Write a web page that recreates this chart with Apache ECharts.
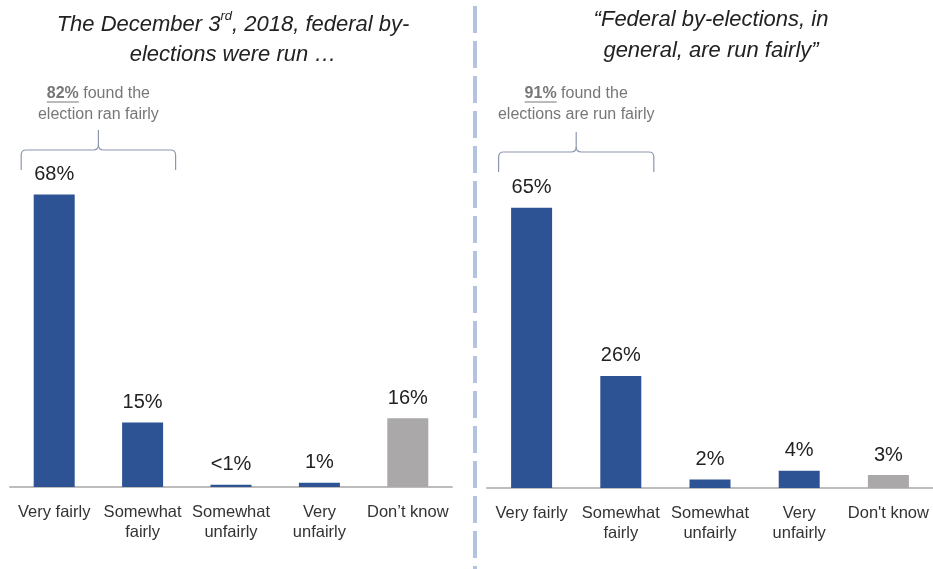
<!DOCTYPE html>
<html>
<head>
<meta charset="utf-8">
<script src="https://cdn.jsdelivr.net/npm/echarts@6/dist/echarts.min.js"></script>
<style>
  html, body { margin: 0; padding: 0; background: #fff; }
  #chart { width: 933px; height: 569px; }
</style>
</head>
<body>
<div id="chart"></div>
<script>
// Answer categories (same for both panels)
const categoriesLeft = ['Very fairly', 'Somewhat\nfairly', 'Somewhat\nunfairly', 'Very\nunfairly', 'Don\u2019t know'];
const categoriesRight = ['Very fairly', 'Somewhat\nfairly', 'Somewhat\nunfairly', 'Very\nunfairly', "Don't know"];

// Dec 3, 2018 by-elections were run ...
const valuesLeft = [68, 15, 0.5, 1, 16];
const labelsLeft = ['68%', '15%', '<1%', '1%', '16%'];

// Federal by-elections, in general, are run fairly
const valuesRight = [65, 26, 2, 4, 3];
const labelsRight = ['65%', '26%', '2%', '4%', '3%'];

const BLUE = '#2E5395';
const GREY = '#AAA8A9';
const FONT = '"Liberation Sans", Arial, sans-serif';
const CAPTION_SIZE = 16;

function barData(values, labels) {
  return values.map((v, i) => ({
    value: v,
    itemStyle: { color: i === values.length - 1 ? GREY : BLUE },
    label: { formatter: labels[i] }
  }));
}

const chart = echarts.init(document.getElementById('chart'), null, { renderer: 'canvas' });

const xAxisCommon = {
  type: 'category',
  axisLine: { lineStyle: { color: '#BDBDBD', width: 2 } },
  axisTick: { show: false },
  axisLabel: { interval: 0, color: '#333', fontSize: 16.5, fontFamily: FONT, lineHeight: 20, margin: 15 }
};
const yAxisCommon = { type: 'value', min: 0, max: 100, show: false, splitLine: { show: false } };
const seriesCommon = {
  type: 'bar',
  barWidth: 41,
  label: { show: true, position: 'top', distance: 10, color: '#222', fontSize: 20, fontFamily: FONT }
};

chart.setOption({
  animation: false,
  grid: [
    { left: 10, right: 481, top: 57, bottom: 82 },
    { left: 487, right: 0, top: 57, bottom: 81 }
  ],
  xAxis: [
    Object.assign({ gridIndex: 0, data: categoriesLeft }, xAxisCommon),
    Object.assign({ gridIndex: 1, data: categoriesRight }, xAxisCommon)
  ],
  yAxis: [
    Object.assign({ gridIndex: 0 }, yAxisCommon),
    Object.assign({ gridIndex: 1 }, yAxisCommon)
  ],
  series: [
    Object.assign({ xAxisIndex: 0, yAxisIndex: 0, data: barData(valuesLeft, labelsLeft) }, seriesCommon),
    Object.assign({ xAxisIndex: 1, yAxisIndex: 1, data: barData(valuesRight, labelsRight) }, seriesCommon)
  ]
});

// text width helper for placing the underline under the bold percentage
const measureCtx = document.createElement('canvas').getContext('2d');
function textWidth(str, weight) {
  measureCtx.font = `${weight} ${CAPTION_SIZE}px ${FONT}`;
  return measureCtx.measureText(str).width;
}

// Curly brace over the first two bars of a panel, with a caption above it
function brace(gridIdx, topY, textY, pct, rest1, line2) {
  const a = chart.convertToPixel({ xAxisIndex: gridIdx }, 0);
  const b = chart.convertToPixel({ xAxisIndex: gridIdx }, 1);
  const x1 = a - 33, x2 = b + 33, mid = (x1 + x2) / 2;
  const r = 5, tip = 20, leg = 20;
  const st = { fill: null, stroke: '#8C97AE', lineWidth: 1.2 };
  const curve = (sx, sy, cx, cy, ex, ey) =>
    ({ type: 'bezierCurve', shape: { x1: sx, y1: sy, cpx1: cx, cpy1: cy, x2: ex, y2: ey }, style: st });
  const line = (sx, sy, ex, ey) =>
    ({ type: 'line', shape: { x1: sx, y1: sy, x2: ex, y2: ey }, style: st });

  const wp = textWidth(pct, 'bold');
  const wLine1 = wp + textWidth(' ' + rest1, 'normal');
  const ux = mid - wLine1 / 2;

  return [
    line(x1, topY + leg, x1, topY + r),
    curve(x1, topY + r, x1, topY, x1 + r, topY),
    line(x1 + r, topY, mid - r, topY),
    curve(mid - r, topY, mid, topY, mid, topY - r),
    line(mid, topY - r, mid, topY - tip),
    curve(mid, topY - r, mid, topY, mid + r, topY),
    line(mid + r, topY, x2 - r, topY),
    curve(x2 - r, topY, x2, topY, x2, topY + r),
    line(x2, topY + r, x2, topY + leg),
    {
      type: 'text', x: mid, y: textY,
      style: {
        text: `{p|${pct}}{t| ${rest1}}\n{t|${line2}}`,
        align: 'center', verticalAlign: 'top',
        rich: {
          p: { fontSize: CAPTION_SIZE, fontWeight: 'bold', fill: '#777', fontFamily: FONT, lineHeight: 21 },
          t: { fontSize: CAPTION_SIZE, fill: '#777', fontFamily: FONT, lineHeight: 21 }
        }
      }
    },
    { type: 'line', shape: { x1: ux, y1: textY + 19, x2: ux + wp, y2: textY + 19 },
      style: { stroke: '#777', lineWidth: 1 } }
  ];
}

const leftBrace = brace(0, 150, 83, '82%', 'found the', 'election ran fairly');
const rightBrace = brace(1, 152, 83, '91%', 'found the', 'elections are run fairly');

chart.setOption({
  graphic: [
    // dashed divider between panels
    { type: 'line', shape: { x1: 475, y1: 6, x2: 475, y2: 569 },
      style: { stroke: '#B4C4E0', lineWidth: 4, lineDash: [27, 8] } },
    // panel titles
    {
      type: 'text', x: 233, y: 10,
      style: {
        text: '{t|The December 3}{s|rd}{t|, 2018, federal by-}\n{t|elections were run \u2026}',
        align: 'center', verticalAlign: 'top',
        rich: {
          t: { fontSize: 22, fontStyle: 'italic', fill: '#222', fontFamily: FONT, lineHeight: 30 },
          s: { fontSize: 13, fontStyle: 'italic', fill: '#222', fontFamily: FONT, lineHeight: 30, verticalAlign: 'top', padding: [0, 0, 10, 0] }
        }
      }
    },
    {
      type: 'text', x: 711, y: 4,
      style: {
        text: '\u201CFederal by-elections, in\ngeneral, are run fairly\u201D',
        align: 'center', verticalAlign: 'top',
        fontSize: 22, fontStyle: 'italic', fill: '#222', fontFamily: FONT, lineHeight: 31
      }
    }
  ].concat(leftBrace, rightBrace)
});
</script>
</body>
</html>
